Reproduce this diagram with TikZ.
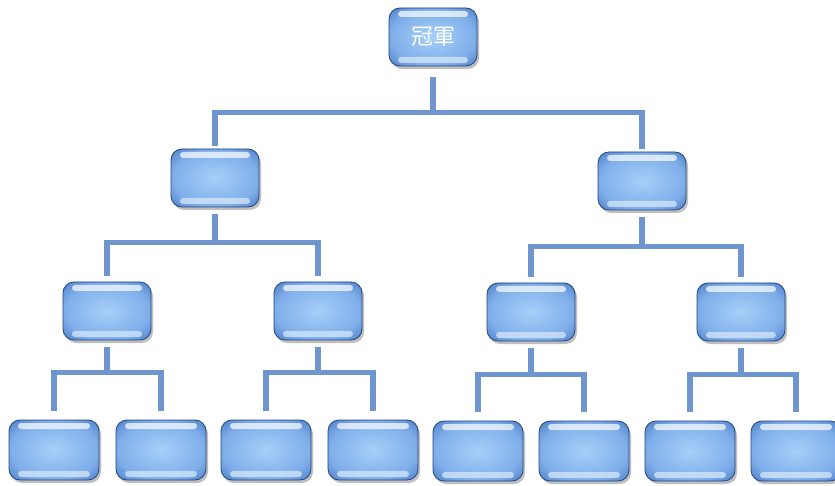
\documentclass[tikz,border=0pt]{standalone}
\usepackage{fontspec}
\newfontfamily\cjk{Noto Sans CJK TC}
\usetikzlibrary{shadows}
\definecolor{boxlight}{HTML}{A6CFF8}
\definecolor{boxmid}{HTML}{7FAEEA}
\definecolor{boxedge}{HTML}{2F63B3}
\definecolor{linkblue}{HTML}{6F95CF}
\pgfdeclareradialshading{boxglow}{\pgfpoint{0bp}{0bp}}{color(0bp)=(boxlight); color(24bp)=(boxmid); color(42bp)=(boxedge); color(50bp)=(boxedge!85!black)}
\begin{document}
\begin{tikzpicture}[x=1pt,y=-1pt]
\tikzstyle{every node}=[]
\tikzstyle{team}=[rectangle, rounded corners=11pt, minimum width=88pt, minimum height=58pt, inner sep=0pt,
  shading=boxglow, draw=boxedge!70!black, line width=0.8pt, text=white,
  drop shadow={shadow xshift=2pt, shadow yshift=-3pt, opacity=0.5},
  path picture={
    \fill[white, opacity=0.7, rounded corners=3pt]
      ([xshift=9pt, yshift=-3pt]path picture bounding box.north west) rectangle
      ([xshift=-9pt, yshift=-9pt]path picture bounding box.north east);
    \fill[white!60!boxlight, opacity=0.7, rounded corners=3pt]
      ([xshift=9pt, yshift=3pt]path picture bounding box.south west) rectangle
      ([xshift=-9pt, yshift=9pt]path picture bounding box.south east);
  }]
\tikzstyle{link}=[draw=linkblue, line width=5.5pt, shorten <=7pt, shorten >=6pt]

\useasboundingbox (0,0) rectangle (835,486);

% final
\node[team, font=\fontsize{22}{24}\selectfont] (champ) at (433,37) {\cjk 冠軍};

% semi-finals
\node[team] (semiL) at (215,178) {};
\node[team] (semiR) at (642,181) {};

% quarter-finals
\node[team] (qfa) at (107,311) {};
\node[team] (qfb) at (318,311) {};
\node[team] (qfc) at (531,312) {};
\node[team] (qfd) at (741,312) {};

% first round
\node[team, minimum width=90pt, minimum height=60pt] (ra) at ( 54,450) {};
\node[team, minimum width=90pt, minimum height=60pt] (rb) at (161,450) {};
\node[team, minimum width=90pt, minimum height=60pt] (rc) at (266,450) {};
\node[team, minimum width=90pt, minimum height=60pt] (rd) at (373,450) {};
\node[team, minimum width=90pt, minimum height=60pt] (re) at (478,451) {};
\node[team, minimum width=90pt, minimum height=60pt] (rf) at (584,451) {};
\node[team, minimum width=90pt, minimum height=60pt] (rg) at (690,451) {};
\node[team, minimum width=90pt, minimum height=60pt] (rh) at (796,451) {};

\draw[link, shorten <=11pt, shorten >=3pt] (champ.south) -- ++(0,46) -| (semiL.north);
\draw[link, shorten <=11pt, shorten >=3pt] (champ.south) -- ++(0,46) -| (semiR.north);

\draw[link] (semiL.south) -- ++(0,35) -| (qfa.north);
\draw[link] (semiL.south) -- ++(0,35) -| (qfb.north);
\draw[link] (semiR.south) -- ++(0,36) -| (qfc.north);
\draw[link] (semiR.south) -- ++(0,36) -| (qfd.north);

\draw[link, shorten >=9pt] (qfa.south) -- ++(0,32) -| (ra.north);
\draw[link, shorten >=9pt] (qfa.south) -- ++(0,32) -| (rb.north);
\draw[link, shorten >=9pt] (qfb.south) -- ++(0,32) -| (rc.north);
\draw[link, shorten >=9pt] (qfb.south) -- ++(0,32) -| (rd.north);
\draw[link, shorten >=9pt] (qfc.south) -- ++(0,33) -| (re.north);
\draw[link, shorten >=9pt] (qfc.south) -- ++(0,33) -| (rf.north);
\draw[link, shorten >=9pt] (qfd.south) -- ++(0,33) -| (rg.north);
\draw[link, shorten >=9pt] (qfd.south) -- ++(0,33) -| (rh.north);
\end{tikzpicture}
\end{document}
